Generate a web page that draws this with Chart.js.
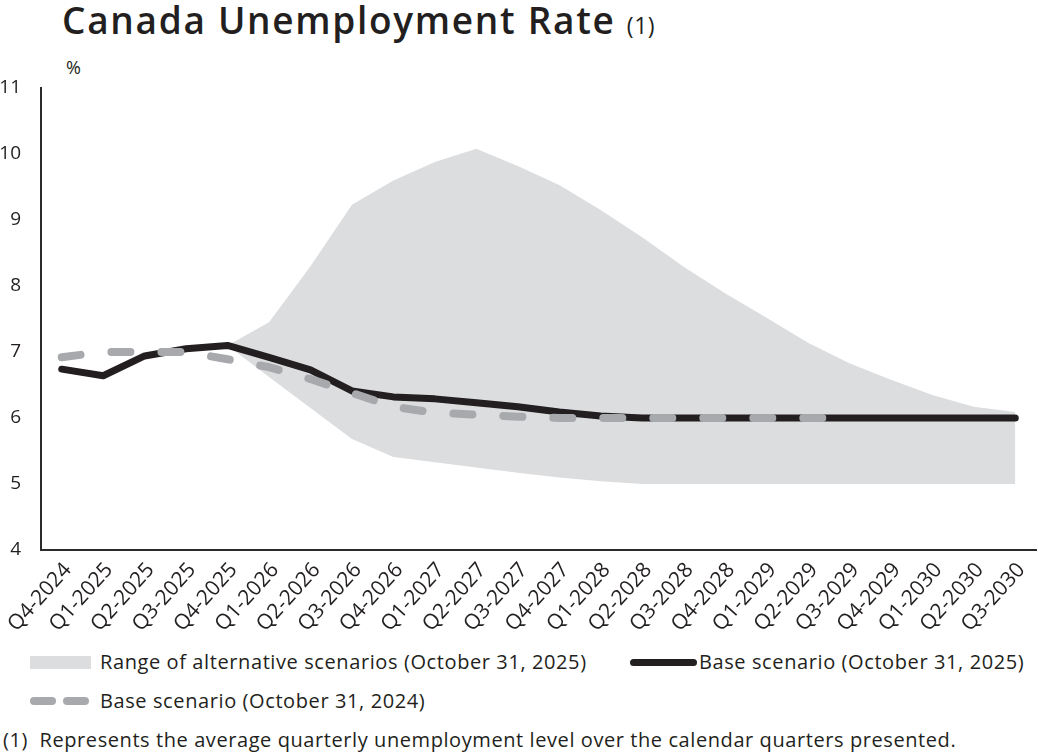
<!DOCTYPE html>
<html>
<head>
<meta charset="utf-8">
<script src="https://cdn.jsdelivr.net/npm/chart.js@4.4.1/dist/chart.umd.min.js"></script>
<style>
  body { margin: 0; background: #fff; font-family: "Open Sans", sans-serif; color: #231f20; }
  #wrap { position: relative; width: 1038px; height: 754px; overflow: hidden; }
  #title { position: absolute; left: 62px; top: -6px; font-size: 37px; font-weight: 600; letter-spacing: 1.7px; white-space: nowrap; }
  #title small { font-size: 23px; font-weight: 400; letter-spacing: 0.5px; }
  #unit { position: absolute; left: 66px; top: 55px; font-size: 18px; }
  #chartBox { position: absolute; left: 0; top: 0; width: 1038px; height: 640px; }
  .leg { position: absolute; font-size: 20px; letter-spacing: 0.6px; white-space: nowrap; }
  .sw { position: absolute; }
  #foot { position: absolute; left: 3px; top: 726px; font-size: 20px; letter-spacing: 0.58px; white-space: nowrap; }
</style>
</head>
<body>
<div id="wrap">
  <div id="title">Canada Unemployment Rate <small>(1)</small></div>
  <div id="unit">%</div>
  <div id="chartBox"><canvas id="myChart" width="1038" height="640"></canvas></div>

  <div class="sw" style="left:30px; top:656px; width:61px; height:13px; background:#dcdddf;"></div>
  <div class="leg" style="left:100px; top:648px;">Range of alternative scenarios (October 31, 2025)</div>
  <div class="sw" style="left:630px; top:659px; width:67px; height:7px; background:#231f20; border-radius:4px;"></div>
  <div class="leg" style="left:699px; top:648px;">Base scenario (October 31, 2025)</div>
  <div class="sw" style="left:30px; top:697px; width:26px; height:8px; background:#a7a9ac; border-radius:4px;"></div>
  <div class="sw" style="left:63px; top:697px; width:26px; height:8px; background:#a7a9ac; border-radius:4px;"></div>
  <div class="leg" style="left:100px; top:687px;">Base scenario (October 31, 2024)</div>

  <div id="foot">(1)&nbsp; Represents the average quarterly unemployment level over the calendar quarters presented.</div>
</div>
<script>
const quarters = ['Q4-2024', 'Q1-2025', 'Q2-2025', 'Q3-2025', 'Q4-2025', 'Q1-2026', 'Q2-2026', 'Q3-2026',
    'Q4-2026', 'Q1-2027', 'Q2-2027', 'Q3-2027', 'Q4-2027', 'Q1-2028', 'Q2-2028', 'Q3-2028', 'Q4-2028',
    'Q1-2029', 'Q2-2029', 'Q3-2029', 'Q4-2029', 'Q1-2030', 'Q2-2030', 'Q3-2030'];

// base scenario, October 31 2025
const base2025 = [6.74, 6.64, 6.94, 7.05, 7.10, 6.92, 6.73, 6.41, 6.32, 6.29, 6.23, 6.17,
    6.09, 6.03, 6.00, 6.00, 6.00, 6.00, 6.00, 6.00, 6.00, 6.00, 6.00, 6.00];

// base scenario, October 31 2024
const base2024 = [6.92, 7.00, 7.00, 7.00, 6.89, 6.77, 6.59, 6.38, 6.17, 6.08, 6.05, 6.02,
    6.00, 6.00, 6.00, 6.00, 6.00, 6.00, 6.00, 6.00, null, null, null, null];

// range of alternative scenarios
const rangeHigh = [null, null, null, null, 7.10, 7.45, 8.30, 9.23, 9.60, 9.88, 10.08, 9.82,
    9.53, 9.15, 8.74, 8.29, 7.89, 7.52, 7.14, 6.83, 6.58, 6.35, 6.17, 6.09];
const rangeLow = [null, null, null, null, 7.10, 6.62, 6.15, 5.68, 5.41, 5.33, 5.25, 5.17,
    5.10, 5.04, 5.00, 5.00, 5.00, 5.00, 5.00, 5.00, 5.00, 5.00, 5.00, 5.00];

const yTicks = [4, 5, 6, 7, 8, 9, 10, 11];

document.addEventListener('DOMContentLoaded', function () {
    const ctx = document.getElementById('myChart');

    new Chart(ctx, {
        type: 'line',
        data: {
            labels: quarters,
            datasets: [{
                label: 'Base scenario (October 31, 2024)',
                data: base2024,
                borderColor: '#a7a9ac',
                borderWidth: 8,
                borderDash: [19, 31],
                borderCapStyle: 'round',
                pointRadius: 0,
                tension: 0,
                fill: false,
                order: 0
            }, {
                label: 'Base scenario (October 31, 2025)',
                data: base2025,
                borderColor: '#231f20',
                borderWidth: 7,
                borderCapStyle: 'round',
                borderJoinStyle: 'round',
                pointRadius: 0,
                tension: 0,
                fill: false,
                order: 1
            }, {
                label: 'low',
                data: rangeLow,
                borderWidth: 0,
                pointRadius: 0,
                tension: 0,
                fill: false,
                order: 3
            }, {
                label: 'Range of alternative scenarios (October 31, 2025)',
                data: rangeHigh,
                borderWidth: 0,
                pointRadius: 0,
                tension: 0,
                backgroundColor: '#dcdddf',
                fill: '-1',
                order: 2
            }]
        },
        options: {
            responsive: false,
            animation: false,
            layout: { padding: { top: 88, right: 2, bottom: 0, left: 0 } },
            plugins: {
                legend: { display: false },
                tooltip: { enabled: false }
            },
            scales: {
                x: {
                    offset: true,
                    grid: { display: false, drawTicks: false },
                    border: { display: true, color: '#2b2b2b', width: 2 },
                    ticks: {
                        color: '#231f20',
                        font: { family: 'Open Sans', size: 21 },
                        minRotation: 48,
                        maxRotation: 48,
                        padding: 8,
                        labelOffset: 6,
                        autoSkip: false
                    },
                    afterFit(scale) {
                        scale.height = 90;
                        scale.paddingLeft = 0;
                        scale.paddingRight = 0;
                    }
                },
                y: {
                    min: 4,
                    max: 11,
                    afterBuildTicks(scale) { scale.ticks = yTicks.map(v => ({ value: v })); },
                    grid: { display: false, drawTicks: false },
                    border: { display: true, color: '#2b2b2b', width: 2 },
                    ticks: {
                        color: '#231f20',
                        font: { family: 'Open Sans', size: 19 },
                        padding: 20
                    },
                    afterFit(scale) { scale.width = 41; }
                }
            }
        }
    });
});
</script>
</body>
</html>
